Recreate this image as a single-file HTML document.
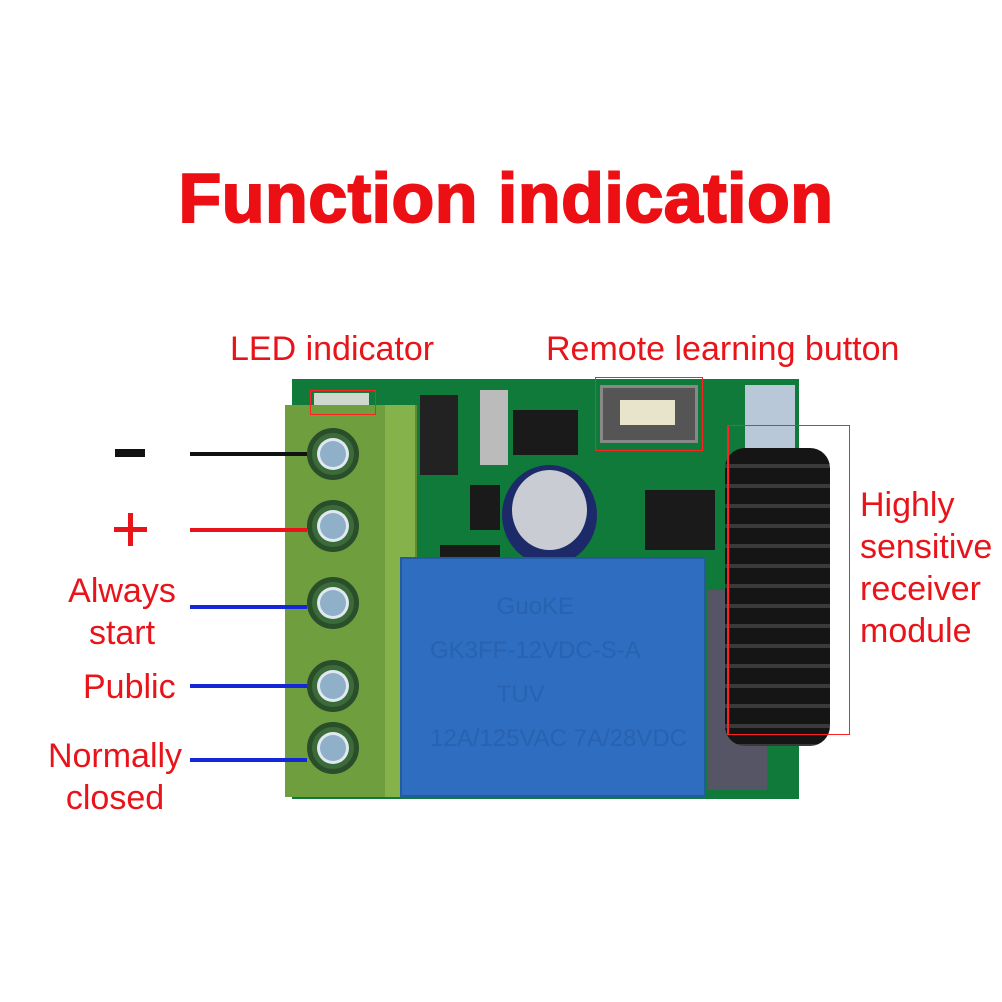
<!DOCTYPE html>
<html><head><meta charset="utf-8"><style>
body{margin:0;width:1002px;height:1002px;background:#fff;position:relative;overflow:hidden;font-family:"Liberation Sans",sans-serif}
div{position:absolute;box-sizing:border-box}
.t{color:#e8141a;font-size:34px;white-space:nowrap}
.scr{width:52px;height:52px;border-radius:50%;background:#3c6b3a;border:5px solid #2a4d2a}
.scr::after{content:"";position:absolute;left:8px;top:8px;width:26px;height:26px;border-radius:50%;background:#8fb0c8;box-shadow:0 0 0 3px #dfe9ef}
.ic{background:#1a1a1a}
</style></head><body>
<div style="left:0;top:158px;width:1012px;text-align:center;font-weight:bold;font-size:70px;color:#ec0f14;-webkit-text-stroke:2px #ec0f14;letter-spacing:0.5px">Function indication</div>
<div class="t" style="left:230px;top:330px">LED indicator</div>
<div class="t" style="left:546px;top:330px">Remote learning button</div>

<!-- board -->
<div style="left:292px;top:379px;width:507px;height:420px;background:#0f7a3a"></div>
<div style="left:745px;top:385px;width:50px;height:80px;background:#b8c8d8"></div>
<div class="ic" style="left:420px;top:395px;width:38px;height:80px;background:#222"></div>
<div style="left:480px;top:390px;width:28px;height:75px;background:#bbb"></div>
<div class="ic" style="left:513px;top:410px;width:65px;height:45px"></div>
<div style="left:600px;top:385px;width:98px;height:58px;background:#555;border:3px solid #888"></div>
<div style="left:620px;top:400px;width:55px;height:25px;background:#e8e4cc"></div>
<div class="ic" style="left:645px;top:490px;width:70px;height:60px"></div>
<div class="ic" style="left:470px;top:485px;width:30px;height:45px"></div>
<div class="ic" style="left:440px;top:545px;width:60px;height:30px"></div>
<div style="left:502px;top:465px;width:95px;height:100px;border-radius:50%;background:#1c2a6a"></div>
<div style="left:512px;top:470px;width:75px;height:80px;border-radius:50%;background:#c9ccd2"></div>
<div style="left:314px;top:393px;width:55px;height:20px;background:#cfd8cf"></div>
<!-- terminal block -->
<div style="left:285px;top:405px;width:132px;height:392px;background:#6f9e3f;border-right:6px solid #5f8c33"></div>
<div style="left:385px;top:405px;width:30px;height:392px;background:#86b24c"></div>
<div class="scr" style="left:307px;top:428px"></div>
<div class="scr" style="left:307px;top:500px"></div>
<div class="scr" style="left:307px;top:577px"></div>
<div class="scr" style="left:307px;top:660px"></div>
<div class="scr" style="left:307px;top:722px"></div>
<!-- relay -->
<div style="left:400px;top:557px;width:306px;height:240px;background:#2e6dbf;border:2px solid #245aa0"></div>
<div style="left:430px;top:585px;width:270px;height:200px;color:#2862b0;font-size:24px;line-height:44px;white-space:nowrap">&nbsp;&nbsp;&nbsp;&nbsp;&nbsp;&nbsp;&nbsp;&nbsp;&nbsp;&nbsp;GuoKE<br>GK3FF-12VDC-S-A<br>&nbsp;&nbsp;&nbsp;&nbsp;&nbsp;&nbsp;&nbsp;&nbsp;&nbsp;&nbsp;TUV<br>12A/125VAC 7A/28VDC</div>
<!-- antenna -->
<div style="left:707px;top:590px;width:60px;height:200px;background:#556;"></div>
<div style="left:725px;top:448px;width:105px;height:298px;border-radius:20px;background:repeating-linear-gradient(#151515 0 16px,#3a3a3a 16px 20px)"></div>
<!-- red boxes -->
<div style="left:310px;top:390px;width:66px;height:25px;border:1px solid #f22"></div>
<div style="left:595px;top:377px;width:108px;height:74px;border:1px solid #f22"></div>
<div style="left:727px;top:425px;width:123px;height:310px;border:1px solid #f22;border-left-width:2px"></div>
<!-- left labels -->
<div style="left:115px;top:449px;width:30px;height:8px;background:#111"></div>
<div style="left:190px;top:452px;width:117px;height:4px;background:#111"></div>
<div style="left:114px;top:527px;width:33px;height:5px;background:#e8141a"></div>
<div style="left:128px;top:513px;width:5px;height:33px;background:#e8141a"></div>
<div style="left:190px;top:528px;width:117px;height:4px;background:#e8141a"></div>
<div class="t" style="left:57px;top:570px;text-align:center;width:130px;line-height:42px">Always<br>start</div>
<div style="left:190px;top:605px;width:117px;height:4px;background:#1428d8"></div>
<div class="t" style="left:83px;top:668px">Public</div>
<div style="left:190px;top:684px;width:117px;height:4px;background:#1428d8"></div>
<div class="t" style="left:36px;top:735px;text-align:center;width:158px;line-height:42px">Normally<br>closed</div>
<div style="left:190px;top:758px;width:117px;height:4px;background:#1428d8"></div>
<div class="t" style="left:860px;top:484px;line-height:42px">Highly<br>sensitive<br>receiver<br>module</div>
</body></html>
